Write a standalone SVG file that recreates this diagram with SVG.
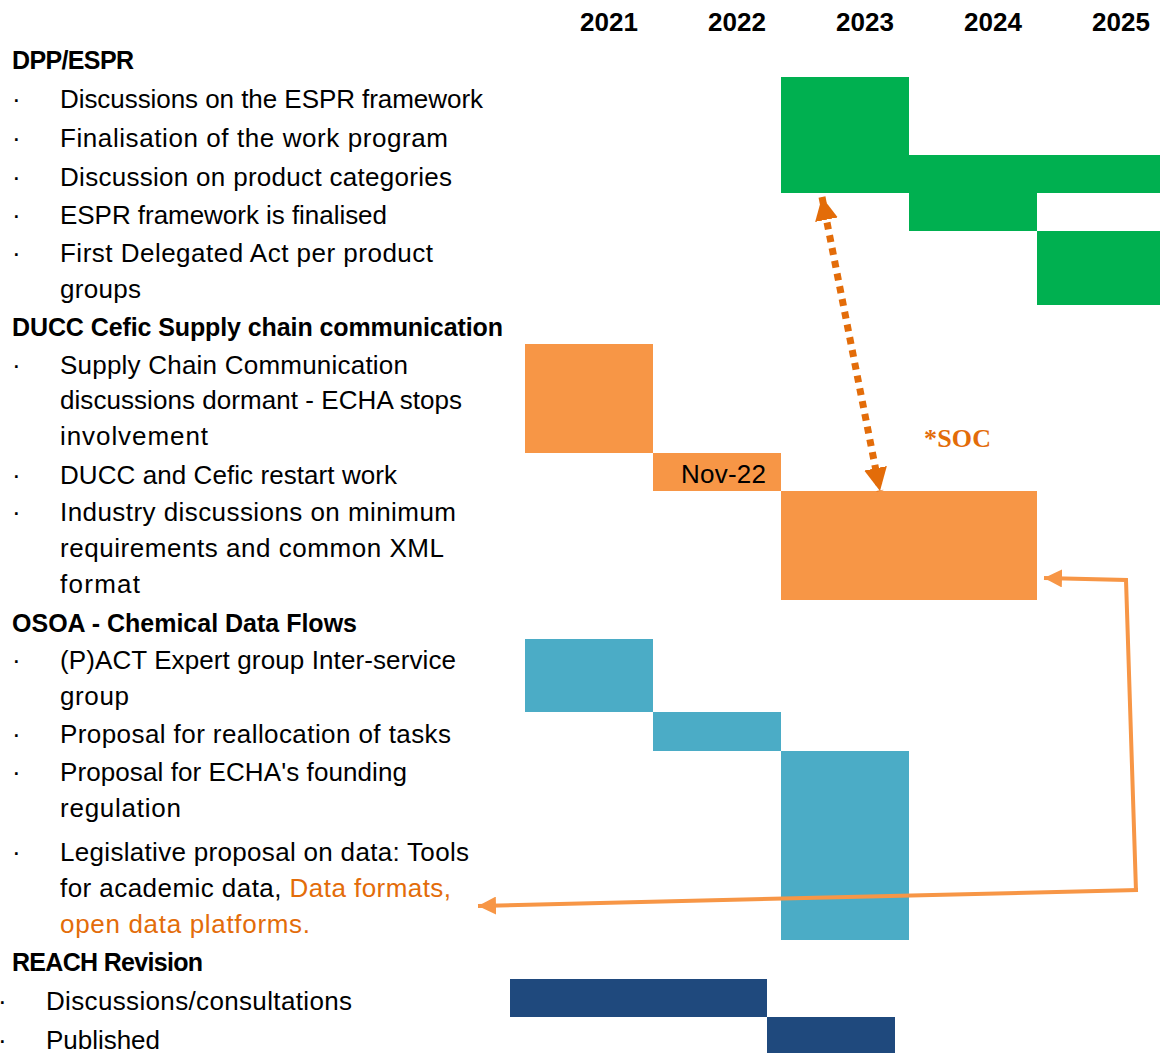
<svg xmlns="http://www.w3.org/2000/svg" width="1160" height="1053" viewBox="0 0 1160 1053">
<style>
text{font-family:"Liberation Sans",Arial,sans-serif;fill:#000}
.yr{font-size:26px;font-weight:bold;text-anchor:middle}
.h{font-size:25px;font-weight:bold}
.t{font-size:26px}
.o{fill:#E36C09}
.g{fill:#00B050}
.or{fill:#F79646}
.b{fill:#4BACC6}
.n{fill:#1F497D}
.soc{font-family:"Liberation Serif","Times New Roman",serif;font-size:26px;font-weight:bold;fill:#E36C09}
</style>
<defs>
<marker id="ad" viewBox="0 0 10 10" refX="10" refY="5" markerWidth="3.3" markerHeight="3.3" orient="auto-start-reverse" markerUnits="strokeWidth"><path d="M0,0L10,5L0,10z" fill="#E36C09"/></marker>
<marker id="as" viewBox="0 0 10 10" refX="10" refY="5" markerWidth="4.5" markerHeight="4.5" orient="auto" markerUnits="strokeWidth"><path d="M0,0L10,5L0,10z" fill="#F79646"/></marker>
</defs>
<rect width="1160" height="1053" fill="#fff"/>
<g id="years">
<text class="yr" x="609" y="31">2021</text>
<text class="yr" x="737" y="31">2022</text>
<text class="yr" x="865" y="31">2023</text>
<text class="yr" x="993" y="31">2024</text>
<text class="yr" x="1121" y="31">2025</text>
</g>
<g id="dpp-labels">
<text class="h" x="12" y="69" textLength="122">DPP/ESPR</text>
<text class="t" x="12" y="108">·</text><text class="t" x="60" y="108" textLength="423">Discussions on the ESPR framework</text>
<text class="t" x="12" y="147">·</text><text class="t" x="60" y="147" textLength="388">Finalisation of the work program</text>
<text class="t" x="12" y="186">·</text><text class="t" x="60" y="186" textLength="392">Discussion on product categories</text>
<text class="t" x="12" y="224">·</text><text class="t" x="60" y="224" textLength="327">ESPR framework is finalised</text>
<text class="t" x="12" y="262">·</text><text class="t" x="60" y="262" textLength="373">First Delegated Act per product</text>
<text class="t" x="60" y="298" textLength="81">groups</text>
</g>
<g id="ducc-labels">
<text class="h" x="12" y="336" textLength="491">DUCC Cefic Supply chain communication</text>
<text class="t" x="12" y="374">·</text><text class="t" x="60" y="374" textLength="348">Supply Chain Communication</text>
<text class="t" x="60" y="409" textLength="402">discussions dormant - ECHA stops</text>
<text class="t" x="60" y="445" textLength="148">involvement</text>
<text class="t" x="12" y="484">·</text><text class="t" x="60" y="484" textLength="337">DUCC and Cefic restart work</text>
<text class="t" x="12" y="521">·</text><text class="t" x="60" y="521" textLength="396">Industry discussions on minimum</text>
<text class="t" x="60" y="557" textLength="384">requirements and common XML</text>
<text class="t" x="60" y="593" textLength="80">format</text>
</g>
<g id="osoa-labels">
<text class="h" x="12" y="632" textLength="345">OSOA - Chemical Data Flows</text>
<text class="t" x="12" y="669">·</text><text class="t" x="60" y="669" textLength="396">(P)ACT Expert group Inter-service</text>
<text class="t" x="60" y="705" textLength="69">group</text>
<text class="t" x="12" y="743">·</text><text class="t" x="60" y="743" textLength="391">Proposal for reallocation of tasks</text>
<text class="t" x="12" y="781">·</text><text class="t" x="60" y="781" textLength="347">Proposal for ECHA's founding</text>
<text class="t" x="60" y="817" textLength="121">regulation</text>
<text class="t" x="12" y="861">·</text><text class="t" x="60" y="861" textLength="409">Legislative proposal on data: Tools</text>
<text class="t" x="60" y="897" textLength="391">for academic data, <tspan class="o">Data formats,</tspan></text>
<text class="t o" x="60" y="933" textLength="250">open data platforms.</text>
</g>
<g id="reach-labels">
<text class="h" x="12" y="971" textLength="191">REACH Revision</text>
<text class="t" x="-2" y="1010">·</text><text class="t" x="46" y="1010" textLength="306">Discussions/consultations</text>
<text class="t" x="-2" y="1049">·</text><text class="t" x="46" y="1049" textLength="114">Published</text>
</g>
<g id="dpp-bars">
<rect class="g" x="781" y="77" width="128" height="116"/>
<rect class="g" x="909" y="155" width="251" height="38"/>
<rect class="g" x="909" y="193" width="128" height="38"/>
<rect class="g" x="1037" y="231" width="123" height="74"/>
</g>
<g id="ducc-bars">
<rect class="or" x="525" y="344" width="128" height="109"/>
<g id="nov22"><rect class="or" x="653" y="453" width="128" height="38"/>
<text class="t" x="681" y="483" textLength="85">Nov-22</text></g>
<rect class="or" x="781" y="491" width="256" height="109"/>
</g>
<g id="osoa-bars">
<rect class="b" x="525" y="639" width="128" height="73"/>
<rect class="b" x="653" y="712" width="128" height="39"/>
<rect class="b" x="781" y="751" width="128" height="189"/>
</g>
<g id="reach-bars">
<rect class="n" x="510" y="979" width="257" height="38"/>
<rect class="n" x="767" y="1017" width="128" height="36"/>
</g>
<text class="soc" x="924" y="447" textLength="67">*SOC</text>
<g id="connectors" fill="none">
<path d="M822,197 L880,491" stroke="#E36C09" stroke-width="7" stroke-dasharray="7 6" marker-start="url(#ad)" marker-end="url(#ad)"/>
<polyline points="1136,891 1126,580 1044,578" stroke="#F79646" stroke-width="4" marker-end="url(#as)"/>
<path d="M1138,890 L478,906" stroke="#F79646" stroke-width="4" marker-end="url(#as)"/>
</g>
</svg>
